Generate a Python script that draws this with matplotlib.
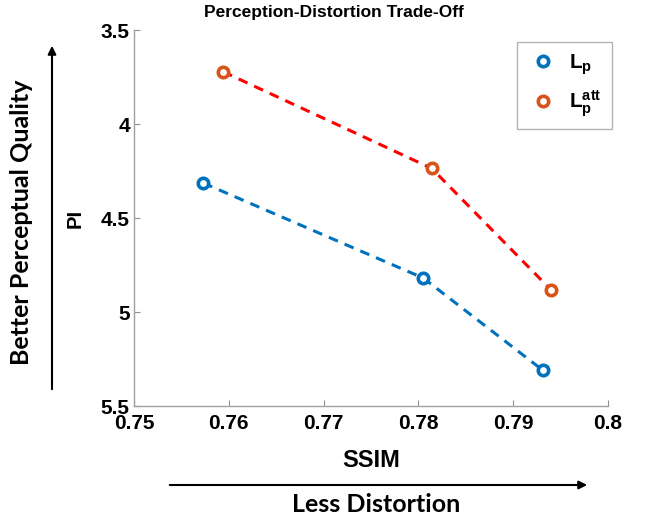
import matplotlib
matplotlib.use('Agg')
import matplotlib.pyplot as plt

# SSIM / PI values
ssim_lp = [0.7573, 0.7805, 0.7931]
pi_lp = [4.314, 4.819, 5.309]
ssim_att = [0.7594, 0.7814, 0.7940]
pi_att = [3.722, 4.236, 4.883]

xticks = [0.75, 0.76, 0.77, 0.78, 0.79, 0.80]
xticklabels = ['0.75', '0.76', '0.77', '0.78', '0.79', '0.8']
yticks = [3.5, 4.0, 4.5, 5.0, 5.5]
yticklabels = ['3.5', '4', '4.5', '5', '5.5']

blue = '#0072BD'
orange = '#D95319'

plt.rcParams['font.family'] = ['Liberation Sans', 'DejaVu Sans']
plt.rcParams['mathtext.fontset'] = 'custom'
plt.rcParams['mathtext.bf'] = 'Liberation Sans:bold'
plt.rcParams['mathtext.rm'] = 'Liberation Sans'

fig = plt.figure(figsize=(6.46, 5.22), dpi=100)
ax = fig.add_axes([134/646, 1-406/522, (608-134)/646, (406-30)/522])

ax.plot(ssim_lp, pi_lp, '--', color=blue, lw=2.2, dashes=(3.2, 2.4))
ax.plot(ssim_att, pi_att, '--', color='red', lw=2.2, dashes=(3.2, 2.4))
ax.plot(ssim_lp, pi_lp, 'o', ls='none', mfc='white', mec=blue, ms=7.5, mew=2.6,
        label=r'$\mathbf{L_p}$')
ax.plot(ssim_att, pi_att, 'o', ls='none', mfc='white', mec=orange, ms=7.5, mew=2.6,
        label=r'$\mathbf{L_p^{att}}$')

ax.set_xlim(0.75, 0.80)
ax.set_ylim(5.5, 3.5)
ax.set_xticks(xticks)
ax.set_xticklabels(xticklabels, fontsize=15, fontweight='bold')
ax.set_yticks(yticks)
ax.set_yticklabels(yticklabels, fontsize=15, fontweight='bold')
ax.tick_params(direction='in', length=4, color='#909090')
ax.tick_params(axis='x', pad=6)
ax.tick_params(axis='y', pad=3)
for s in ['top', 'right']:
    ax.spines[s].set_visible(False)
for s in ['left', 'bottom']:
    ax.spines[s].set_color('#a0a0a0')
    ax.spines[s].set_linewidth(1.0)

ax.set_xlabel('SSIM', fontsize=17, fontweight='bold', labelpad=11)
ax.set_ylabel('PI', fontsize=14.5, fontweight='bold', labelpad=12)

leg = ax.legend(loc='upper right', bbox_to_anchor=(612/646, 1-42/522),
                bbox_transform=fig.transFigure, fontsize=15, frameon=True,
                fancybox=False, edgecolor='#a0a0a0', borderpad=0.5,
                borderaxespad=0, labelspacing=0.55, handlelength=1.5,
                handletextpad=0.5)
leg.get_frame().set_linewidth(1.0)

fig.text(334/646, 1-13/522, 'Perception-Distortion Trade-Off', fontsize=12.5,
         fontweight='bold', ha='center', va='center')

# outer arrows and descriptions
fig.add_artist(matplotlib.patches.FancyArrowPatch(
    (52/646, 1-392/522), (52/646, 1-43/522), transform=fig.transFigure,
    arrowstyle='-|>', mutation_scale=12, lw=1.5, color='black'))
fig.add_artist(matplotlib.patches.FancyArrowPatch(
    (167/646, 1-485/522), (590/646, 1-485/522), transform=fig.transFigure,
    arrowstyle='-|>', mutation_scale=12, lw=1.5, color='black'))
fig.text(22/646, 1-222/522, 'Better Perceptual Quality', rotation=90,
         fontsize=18, fontweight='bold', family='Lato', ha='center', va='center')
fig.text(376/646, 1-505/522, 'Less Distortion', fontsize=18,
         fontweight='bold', family='Lato', ha='center', va='center')

fig.savefig('out.png', dpi=100)
